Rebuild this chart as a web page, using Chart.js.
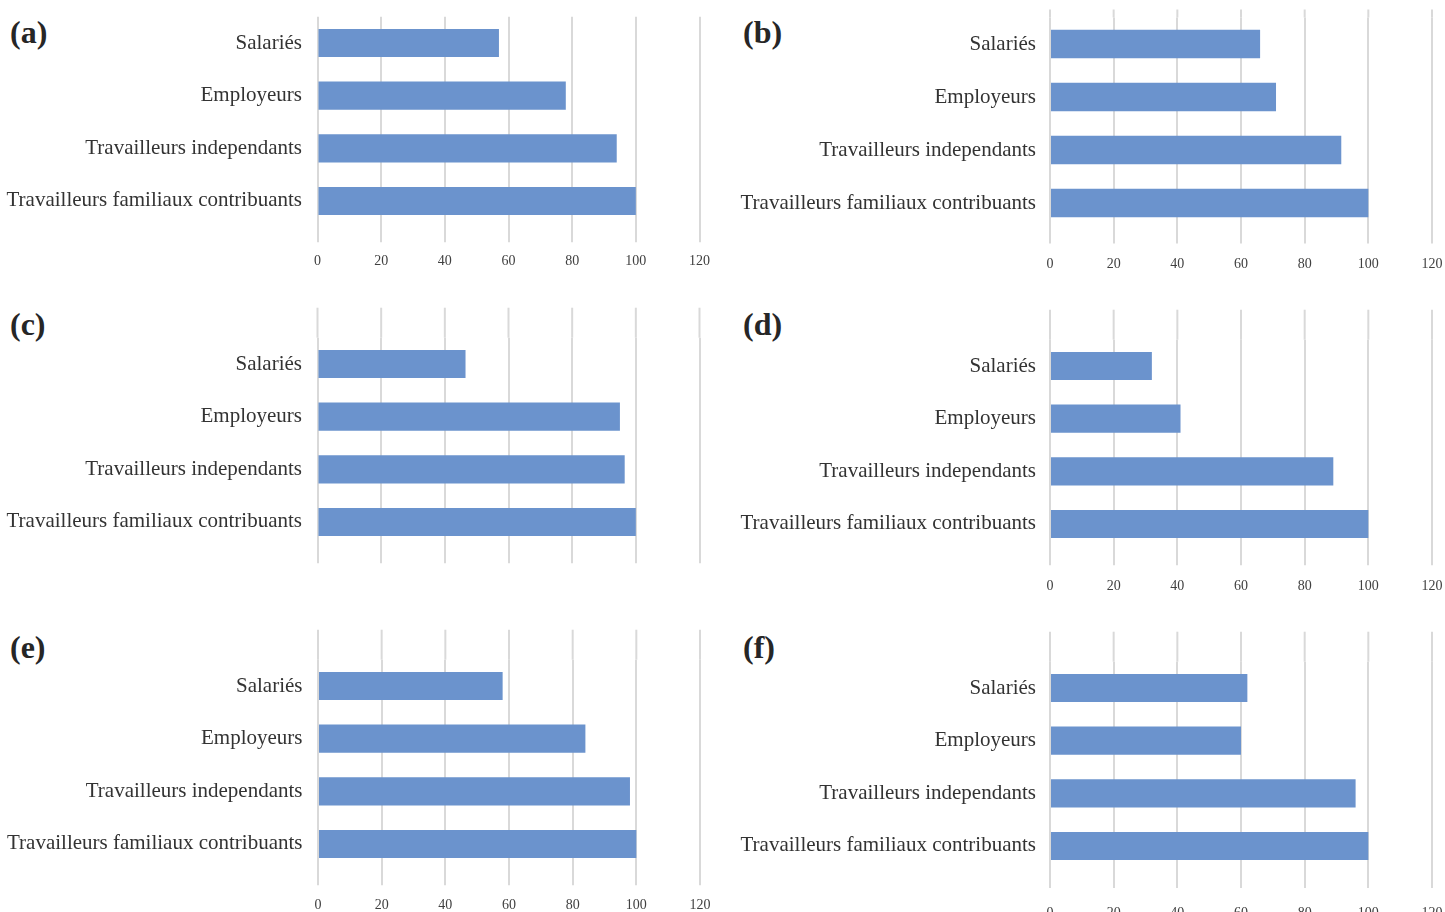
<!DOCTYPE html>
<html>
<head>
<meta charset="utf-8">
<script src="https://cdn.jsdelivr.net/npm/chart.js@4.4.0/dist/chart.umd.min.js"></script>
<style>
  html, body { margin: 0; padding: 0; background: #fff; }
  body { width: 1445px; height: 912px; overflow: hidden; position: relative; }
  canvas { position: absolute; }
  .tag { position: absolute; font: bold 32px "Liberation Serif", serif; color: #262626; line-height: 32px; }
</style>
</head>
<body>
<div class="tag" style="left:10px;top:16px">(a)</div>
<div class="tag" style="left:743px;top:16px">(b)</div>
<div class="tag" style="left:10px;top:308px">(c)</div>
<div class="tag" style="left:743px;top:308px">(d)</div>
<div class="tag" style="left:10px;top:631px">(e)</div>
<div class="tag" style="left:743px;top:631px">(f)</div>

<canvas id="pa"></canvas>
<canvas id="pb"></canvas>
<canvas id="pc"></canvas>
<canvas id="pd"></canvas>
<canvas id="pe"></canvas>
<canvas id="pf"></canvas>

<script>
// Employment status categories (top to bottom)
const categories = ['Salariés', 'Employeurs', 'Travailleurs independants', 'Travailleurs familiaux contribuants'];

// Index values per panel
const valuesA = [57, 78, 94, 100];
const valuesB = [66, 71, 91.5, 100];
const valuesC = [46.5, 95, 96.5, 100];
const valuesD = [32, 41, 89, 100];
const valuesE = [58, 84, 98, 100];
const valuesF = [62, 60, 96, 100];

// Value axis range and tick step
const axisMin = 0;
const axisMax = 120;
const axisStep = 20;

const BAR = '#6b93cd';
const GRID = '#d9d9d9';
const SERIF = '"Liberation Serif", "Times New Roman", serif';

// Draws the vertical grid lines a little above the plot area where needed
const gridReach = {
  id: 'gridReach',
  beforeDatasetsDraw(chart, args, opts) {
    const ext = opts.above || 0;
    if (!ext) return;
    const xs = chart.scales.x;
    const top = chart.chartArea.top;
    const ctx = chart.ctx;
    ctx.save();
    ctx.strokeStyle = GRID;
    ctx.lineWidth = 2;
    xs.ticks.forEach(t => {
      const px = xs.getPixelForValue(t.value);
      ctx.beginPath();
      ctx.moveTo(px, top - ext);
      ctx.lineTo(px, top);
      ctx.stroke();
    });
    ctx.restore();
  }
};

// box: canvas placement; area: plot area in page coordinates
function panel(id, values, box, area, o) {
  const cv = document.getElementById(id);
  cv.width = box.w; cv.height = box.h;
  cv.style.left = box.x + 'px'; cv.style.top = box.y + 'px';
  cv.style.width = box.w + 'px'; cv.style.height = box.h + 'px';

  const yWidth = area.left - box.x;
  const padRight = box.x + box.w - area.right;
  const padTop = area.top - box.y;
  const xHeight = box.y + box.h - area.bottom;

  new Chart(cv, {
    type: 'bar',
    data: {
      labels: categories,
      datasets: [{
        data: values,
        backgroundColor: BAR,
        borderWidth: 0,
        categoryPercentage: 1,
        barPercentage: 0.535
      }]
    },
    options: {
      indexAxis: 'y',
      responsive: false,
      animation: false,
      devicePixelRatio: 1,
      layout: { padding: { left: 0, right: padRight, top: padTop, bottom: 0 } },
      plugins: {
        legend: { display: false },
        tooltip: { enabled: false },
        gridReach: { above: o.above }
      },
      scales: {
        x: {
          type: 'linear',
          min: axisMin,
          max: axisMax,
          border: { display: false },
          grid: { color: GRID, lineWidth: 2, drawTicks: true, tickLength: o.tick },
          ticks: {
            display: o.showTicks,
            stepSize: axisStep,
            padding: o.pad,
            color: '#404040',
            font: { family: SERIF, size: 14 }
          },
          afterFit(s) { s.height = xHeight; }
        },
        y: {
          border: { display: false },
          // invisible tick marks keep the label gap without padding the plot top
          grid: { display: true, drawOnChartArea: false, drawTicks: true, tickLength: o.lpad, color: 'rgba(0,0,0,0)' },
          ticks: {
            autoSkip: false,
            padding: 0,
            color: '#333333',
            font: { family: SERIF, size: 21 }
          },
          afterFit(s) { s.width = yWidth; }
        }
      }
    },
    plugins: [gridReach]
  });
}

panel('pa', valuesA, { x: 0, y: 0, w: 730, h: 290 },
      { left: 317.5, right: 699.5, top: 16.7, bottom: 227.3 },
      { above: 0, tick: 15, pad: 11, showTicks: true, lpad: 15.5 });
panel('pb', valuesB, { x: 720, y: 0, w: 745, h: 290 },
      { left: 1050, right: 1432, top: 17.5, bottom: 229.5 },
      { above: 8, tick: 14, pad: 12.7, showTicks: true, lpad: 14 });
panel('pc', valuesC, { x: 0, y: 290, w: 730, h: 310 },
      { left: 317.5, right: 699.5, top: 337.7, bottom: 548.3 },
      { above: 30, tick: 15, pad: 11, showTicks: false, lpad: 15.5 });
panel('pd', valuesD, { x: 720, y: 290, w: 745, h: 320 },
      { left: 1050, right: 1432, top: 339.7, bottom: 550.3 },
      { above: 30, tick: 15, pad: 12.6, showTicks: true, lpad: 14 });
panel('pe', valuesE, { x: 0, y: 610, w: 730, h: 302 },
      { left: 318, right: 700, top: 659.7, bottom: 870.3 },
      { above: 30, tick: 15, pad: 12, showTicks: true, lpad: 15.5 });
panel('pf', valuesF, { x: 720, y: 610, w: 745, h: 302 },
      { left: 1050, right: 1432, top: 661.7, bottom: 872.3 },
      { above: 30, tick: 15.7, pad: 17, showTicks: true, lpad: 14 });
</script>
</body>
</html>
